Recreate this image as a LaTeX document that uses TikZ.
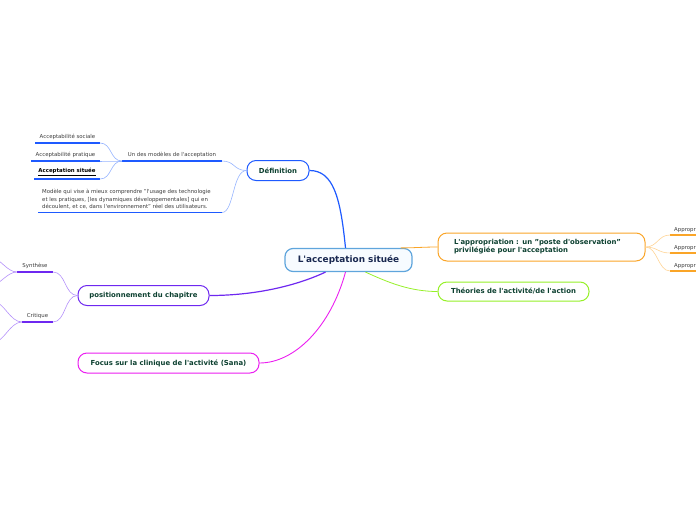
\documentclass[tikz,border=0pt]{standalone}
\usepackage{fontspec}
\setmainfont{DejaVu Sans}
\usetikzlibrary{positioning}
\definecolor{rootline}{RGB}{95,165,220}
\definecolor{rootfill}{RGB}{247,251,255}
\definecolor{rootink}{RGB}{25,40,80}
\definecolor{nodeink}{RGB}{12,64,48}
\definecolor{leafink}{RGB}{60,60,60}
\definecolor{defblue}{RGB}{30,90,255}
\definecolor{deflight}{RGB}{150,180,255}
\definecolor{appropor}{RGB}{250,165,40}
\definecolor{appropl}{RGB}{255,212,150}
\definecolor{theogreen}{RGB}{150,240,40}
\definecolor{pospurple}{RGB}{110,40,240}
\definecolor{poslight}{RGB}{180,145,250}
\definecolor{focusmag}{RGB}{235,30,240}
\newcommand{\apos}{\textquotesingle}

\begin{document}
\begin{tikzpicture}[
  x=1pt, y=-1pt,
  root/.style={draw=rootline, line width=1.2pt, fill=rootfill, rounded corners=8pt, minimum width=127pt, minimum height=23pt, font=\bfseries\fontsize{8.9}{10}\selectfont, text=rootink},
  topic/.style={draw=#1, line width=1pt, fill=white, rounded corners=9pt, minimum height=20pt, font=\bfseries\fontsize{6.9}{8.2}\selectfont, text=nodeink},
  leaf/.style={font=\fontsize{5.4}{7.4}\selectfont, text=leafink, inner sep=1pt, anchor=south},
  branch/.style={line width=1.2pt},
  twig/.style={line width=0.6pt},
  uline/.style={line width=1.3pt}
]
\useasboundingbox (0,0) rectangle (696,520);
\clip (0,0) rectangle (696,520);

% main topics
\node[root] (root) at (348.5,260) {L\apos acceptation située};
\node[topic=defblue, minimum width=62pt] (def) at (278,170.5) {Définition};
\node[topic=appropor, minimum width=207pt, minimum height=28pt, inner xsep=16pt, text width=175pt, align=left] (approp) at (541.5,247) {L\apos appropriation : un "poste d\apos observation"\\privilégiée pour l\apos acceptation};
\node[topic=theogreen, minimum width=151pt, minimum height=19pt] (theo) at (513.5,291.5) {Théories de l\apos activité/de l\apos action};
\node[topic=pospurple, minimum width=131pt] (pos) at (143.5,295.5) {positionnement du chapitre};
\node[topic=focusmag, minimum width=181pt] (focus) at (168.5,363) {Focus sur la clinique de l\apos activité (Sana)};

\draw[branch, defblue] ([xshift=-3pt]root.north) .. controls +(-5,-50) and +(24,0) .. (def.east);
\draw[line width=0.8pt, appropor] ([xshift=52pt]root.north) .. controls +(14,0) and +(-14,0) .. (approp.west);
\draw[line width=0.8pt, theogreen] ([xshift=17pt]root.south) .. controls +(22,10) and +(-28,0) .. (theo.west);
\draw[branch, pospurple] ([xshift=-23pt]root.south) .. controls +(-30,14) and +(45,0) .. (pos.east);
\draw[line width=0.9pt, focusmag] ([xshift=-3pt]root.south) .. controls +(-15,55) and +(35,0) .. (focus.east);

% Definition
\coordinate (modA) at (122,161);
\coordinate (modB) at (222,161);
\node[leaf] (modeles) at (172,159) {Un des modèles de l\apos acceptation};
\draw[uline, defblue] (modA) -- (modB);
\draw[twig, deflight] (def.west) .. controls +(-13,0) and +(13,0) .. (modB);

\coordinate (sociA) at (35,143);
\coordinate (sociB) at (100,143);
\node[leaf] (sociale) at (67.5,141) {Acceptabilité sociale};
\coordinate (pratA) at (31,161);
\coordinate (pratB) at (100,161);
\node[leaf] (pratique) at (65.5,159) {Acceptabilité pratique};
\coordinate (situA) at (34,179);
\coordinate (situB) at (100,179);
\node[leaf, font=\bfseries\fontsize{5.4}{7}\selectfont, text=black] (situee) at (67,177) {\underline{Acceptation située}};
\foreach \l in {soci,prat,situ} {
  \draw[uline, defblue] (\l A) -- (\l B);
  \draw[twig, deflight] (modA) .. controls +(-12,0) and +(12,0) .. (\l B);
}

\coordinate (longA) at (38,212.5);
\coordinate (longB) at (222,212.5);
\node[leaf, anchor=south west, align=left] (modele) at (41,210.5) {Modèle qui vise à mieux comprendre "l\apos usage des technologie\\et les pratiques, [les dynamiques développementales] qui en\\découlent, et ce, dans l\apos environnement" réel des utilisateurs.};
\draw[uline, defblue] (longA) -- (longB);
\draw[twig, deflight] (def.west) .. controls +(-14,0) and +(12,0) .. (longB);

% appropriation
\foreach \i/\y in {1/235,2/253,3/271} {
  \coordinate (apA\i) at (670,\y);
  \coordinate (apB\i) at (700,\y);
  \node[leaf, anchor=south west] (apt\i) at (673,\y-1.5) {Appropriation};
  \draw[uline, appropor] (apA\i) -- (apB\i);
  \draw[twig, appropl] (approp.east) .. controls +(12,0) and +(-12,0) .. (apA\i);
}

% positionnement
\coordinate (synA) at (17,272);
\coordinate (synB) at (53,272);
\node[leaf] (synthese) at (35,270) {Synthèse};
\coordinate (criA) at (22,322);
\coordinate (criB) at (53,322);
\node[leaf] (critique) at (37.5,320) {Critique};
\foreach \l in {syn,cri} {
  \draw[uline, pospurple] (\l A) -- (\l B);
  \draw[twig, poslight] (pos.west) .. controls +(-13,0) and +(13,0) .. (\l B);
}
\coordinate (synx1) at (-8,258);
\coordinate (synx2) at (-8,285);
\coordinate (crix1) at (-6,302);
\coordinate (crix2) at (-6,342);
\draw[twig, poslight] (synA) .. controls +(-10,0) and +(8,0) .. (synx1);
\draw[twig, poslight] (synA) .. controls +(-10,0) and +(8,0) .. (synx2);
\draw[twig, poslight] (criA) .. controls +(-12,0) and +(10,0) .. (crix1);
\draw[twig, poslight] (criA) .. controls +(-12,0) and +(10,0) .. (crix2);
\end{tikzpicture}
\end{document}
